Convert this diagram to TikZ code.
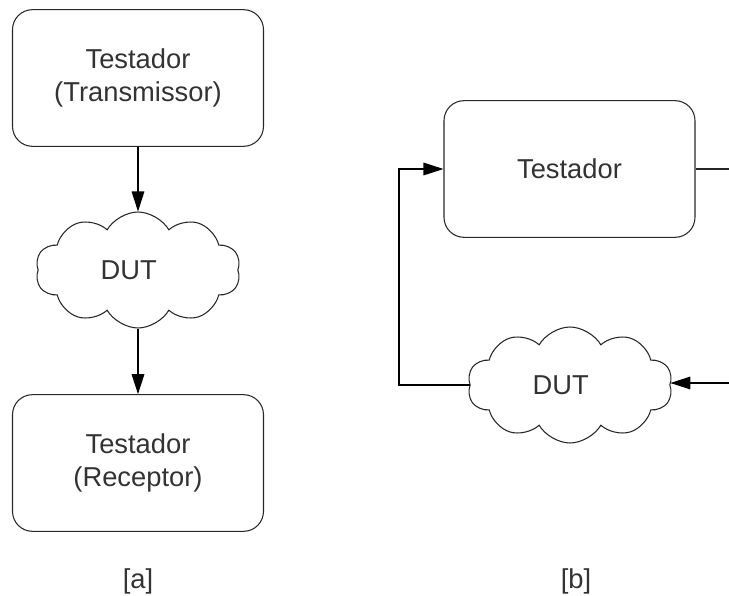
\documentclass[tikz,border=0pt]{standalone}
\usepackage{fontspec}
\setmainfont{Liberation Sans}
\usetikzlibrary{shapes.symbols,arrows.meta}
\definecolor{txt}{RGB}{51,51,51}
\definecolor{edge}{RGB}{40,40,40}
\begin{document}
\begin{tikzpicture}[x=0.75pt,y=-0.75pt,
  every node/.style={text=txt,font=\fontsize{20.5}{25}\selectfont},
  box/.style={draw=edge,line width=0.8pt,rounded corners=15pt,
    minimum width=188.25pt,minimum height=102.5pt,align=center,inner sep=0pt},
  dut/.style={draw=edge,line width=0.8pt,shape=cloud,cloud puffs=10,
    cloud puff arc=120,aspect=1.77,minimum width=153.75pt,minimum height=87pt,inner sep=0pt},
  arr/.style={draw=black,line width=0.8pt,-{Triangle[length=15pt,width=9.5pt]}},
  wire/.style={draw=black!85,line width=0.8pt}]
\useasboundingbox (0,0) rectangle (729,596);

% setup [a]: transmitter -> DUT -> receiver
\node[box] (tx) at (138,78) {Testador\\(Transmissor)};
\node[dut,label={[xshift=-7pt]center:DUT}] (dutA) at (138,270) {};
\node[box] (rx) at (138,463) {Testador\\(Receptor)};
\draw[arr] (tx.south) -- (dutA.north);
\draw[arr] (dutA.south) -- (rx.north);
\node (la) at (138,581) {[a]};

% setup [b]: tester in a loop through the DUT
\node[box] (tb) at (569.5,169) {Testador};
\node[dut,label={[xshift=-7pt]center:DUT}] (dutB) at (570,385) {};
\coordinate (outR) at (729,169);
\coordinate (inR) at (729,383);
\coordinate (loopx) at (399,0);
\draw[wire] (tb.east) -- (outR);
\draw[arr] (inR) -- (inR -| dutB.east);
\draw[arr] (dutB.west) -- (dutB.west -| loopx) |- (tb.west);
\node (lb) at (576,581) {[b]};
\end{tikzpicture}
\end{document}
